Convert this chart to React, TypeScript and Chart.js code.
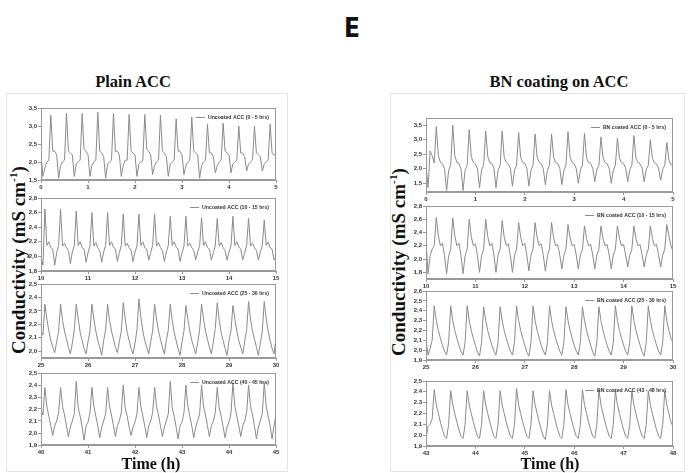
import React, { useEffect, useRef } from "react";
import { Chart, registerables } from "chart.js";

Chart.register(...registerables);

// sampling: one reading every 2.5 min (24 per hour)
const SAMPLES_PER_HOUR = 24;

// ---------- Plain ACC (uncoated) ----------
const uncoated_0_5 = [
  2.2, 1.6, 1.85, 2.0, 2.05,
  3.3, 2.3, 2.3, 2.2, 1.55, 1.9, 2.0, 2.05,
  3.35, 2.3, 2.25, 2.2, 1.6, 1.95, 2.0, 2.05,
  3.35, 2.35, 2.3, 2.2, 1.6, 1.9, 2.0, 2.05,
  3.38, 2.3, 2.25, 2.15, 1.55, 1.95, 2.0, 2.05,
  3.35, 2.3, 2.3, 2.2, 1.6, 1.9, 2.05, 2.05,
  3.32, 2.3, 2.25, 2.2, 1.6, 1.95, 2.0, 2.05,
  3.32, 2.35, 2.3, 2.2, 1.65, 1.9, 2.0, 2.05,
  3.3, 2.3, 2.25, 2.15, 1.6, 1.95, 2.0, 2.05,
  3.2, 2.3, 2.3, 2.2, 1.65, 1.9, 2.0, 2.05,
  3.25, 2.3, 2.25, 2.2, 1.55, 1.9, 2.0, 2.05,
  3.05, 2.25, 2.25, 2.15, 1.7, 1.9, 2.0, 2.05,
  3.08, 2.3, 2.25, 2.2, 1.7, 1.95, 2.0, 2.05,
  3.0, 2.25, 2.25, 2.15, 1.75, 1.95, 2.0, 2.05,
  3.0, 2.25, 2.2, 2.15, 1.75, 1.95, 2.0, 2.05,
  3.05, 2.25, 2.2, 2.2,
];

const uncoated_10_15 = [
  2.0, 1.88,
  2.65, 2.15, 2.2, 2.12, 2.1, 1.88, 2.05, 2.15,
  2.65, 2.14, 2.18, 2.12, 2.08, 1.9, 2.06, 2.15,
  2.62, 2.15, 2.2, 2.12, 2.1, 1.92, 2.05, 2.14,
  2.6, 2.14, 2.19, 2.12, 2.08, 1.92, 2.06, 2.15,
  2.6, 2.15, 2.2, 2.13, 2.1, 1.93, 2.05, 2.15,
  2.58, 2.14, 2.18, 2.12, 2.08, 1.93, 2.06, 2.14,
  2.58, 2.15, 2.2, 2.12, 2.1, 1.95, 2.05, 2.15,
  2.58, 2.14, 2.19, 2.12, 2.08, 1.93, 2.06, 2.15,
  2.55, 2.15, 2.2, 2.13, 2.1, 1.93, 2.05, 2.14,
  2.55, 2.14, 2.18, 2.12, 2.08, 1.95, 2.06, 2.15,
  2.53, 2.15, 2.2, 2.12, 2.1, 1.95, 2.05, 2.15,
  2.52, 2.14, 2.19, 2.12, 2.08, 1.95, 2.06, 2.14,
  2.55, 2.15, 2.2, 2.13, 2.1, 1.95, 2.05, 2.15,
  2.52, 2.14, 2.18, 2.12, 2.08, 1.95, 2.06, 2.15,
  2.5, 2.15, 2.2, 2.12, 2.1, 1.95, 2.0,
];

const uncoated_25_30 = [
  2.15, 2.12,
  2.35, 2.24, 2.15, 2.08, 2.03, 1.99, 2.07, 2.15,
  2.35, 2.23, 2.15, 2.09, 2.03, 1.98, 2.06, 2.16,
  2.35, 2.24, 2.14, 2.08, 2.02, 1.98, 2.07, 2.15,
  2.35, 2.24, 2.15, 2.08, 2.03, 1.97, 2.08, 2.16,
  2.35, 2.23, 2.15, 2.09, 2.03, 1.99, 2.07, 2.15,
  2.36, 2.24, 2.14, 2.08, 2.02, 1.98, 2.06, 2.16,
  2.39, 2.25, 2.15, 2.08, 2.03, 1.98, 2.07, 2.15,
  2.35, 2.24, 2.15, 2.09, 2.03, 1.98, 2.08, 2.16,
  2.35, 2.23, 2.14, 2.08, 2.02, 1.97, 2.07, 2.15,
  2.34, 2.24, 2.15, 2.08, 2.03, 1.98, 2.06, 2.16,
  2.35, 2.24, 2.15, 2.09, 2.03, 1.98, 2.07, 2.17,
  2.36, 2.23, 2.14, 2.08, 2.02, 1.97, 2.08, 2.15,
  2.34, 2.24, 2.15, 2.08, 2.03, 1.98, 2.07, 2.16,
  2.37, 2.24, 2.15, 2.09, 2.03, 1.97, 2.06, 2.15,
  2.37, 2.24, 2.15, 2.08, 2.02, 1.98, 2.1,
];

const uncoated_40_45 = [
  2.2, 2.15,
  2.38, 2.22, 2.14, 2.06, 1.98, 2.06, 2.1, 2.17,
  2.38, 2.22, 2.15, 2.06, 1.97, 2.05, 2.1, 2.16,
  2.43, 2.21, 2.14, 2.05, 1.94, 2.06, 2.09, 2.17,
  2.38, 2.22, 2.14, 2.06, 1.96, 2.05, 2.1, 2.16,
  2.38, 2.22, 2.15, 2.06, 1.97, 2.06, 2.1, 2.17,
  2.4, 2.21, 2.14, 2.05, 1.98, 2.05, 2.09, 2.16,
  2.38, 2.22, 2.14, 2.06, 1.96, 2.06, 2.1, 2.17,
  2.38, 2.22, 2.15, 2.06, 1.97, 2.05, 2.1, 2.16,
  2.43, 2.21, 2.14, 2.05, 1.95, 2.06, 2.09, 2.17,
  2.4, 2.22, 2.14, 2.06, 1.96, 2.05, 2.1, 2.16,
  2.4, 2.22, 2.15, 2.06, 1.97, 2.06, 2.1, 2.17,
  2.38, 2.21, 2.14, 2.05, 1.96, 2.05, 2.09, 2.16,
  2.42, 2.22, 2.14, 2.06, 1.97, 2.06, 2.1, 2.17,
  2.4, 2.22, 2.15, 2.06, 1.95, 2.05, 2.1, 2.16,
  2.42, 2.22, 2.14, 2.06, 1.95, 2.06, 2.15,
];

// ---------- BN coating on ACC ----------
const bn_0_5 = [
  2.1, 1.35, 2.62, 2.45, 2.2,
  3.45, 2.45, 2.22, 2.18, 2.0, 1.25, 1.95, 2.12,
  3.5, 2.45, 2.22, 2.18, 2.0, 1.25, 1.95, 2.12,
  3.35, 2.42, 2.22, 2.17, 2.0, 1.35, 1.96, 2.12,
  3.3, 2.42, 2.21, 2.18, 2.02, 1.35, 1.95, 2.12,
  3.3, 2.4, 2.22, 2.17, 2.0, 1.4, 1.96, 2.12,
  3.25, 2.4, 2.21, 2.18, 2.02, 1.4, 1.95, 2.12,
  3.2, 2.4, 2.22, 2.17, 2.0, 1.45, 1.96, 2.12,
  3.2, 2.4, 2.21, 2.18, 2.02, 1.45, 1.95, 2.12,
  3.28, 2.4, 2.22, 2.17, 2.0, 1.5, 1.96, 2.12,
  3.22, 2.38, 2.21, 2.18, 2.02, 1.55, 1.97, 2.12,
  3.1, 2.38, 2.22, 2.17, 2.02, 1.5, 1.96, 2.12,
  3.05, 2.36, 2.21, 2.18, 2.02, 1.55, 1.97, 2.12,
  3.15, 2.36, 2.22, 2.17, 2.02, 1.55, 1.97, 2.12,
  3.0, 2.35, 2.21, 2.17, 2.02, 1.6, 1.98, 2.12,
  2.9, 2.3, 2.15, 2.1,
];

const bn_10_15 = [
  2.28, 1.78, 2.05, 2.15, 2.2,
  2.63, 2.35, 2.2, 2.24, 2.05, 1.78, 2.05, 2.15,
  2.62, 2.35, 2.2, 2.24, 2.05, 1.78, 2.05, 2.15,
  2.6, 2.34, 2.2, 2.23, 2.05, 1.8, 2.05, 2.15,
  2.6, 2.34, 2.2, 2.24, 2.06, 1.8, 2.06, 2.15,
  2.58, 2.33, 2.2, 2.23, 2.05, 1.8, 2.05, 2.15,
  2.55, 2.33, 2.2, 2.24, 2.06, 1.82, 2.06, 2.15,
  2.55, 2.32, 2.2, 2.23, 2.05, 1.82, 2.05, 2.15,
  2.55, 2.32, 2.2, 2.22, 2.06, 1.85, 2.06, 2.15,
  2.52, 2.32, 2.2, 2.22, 2.06, 1.85, 2.06, 2.15,
  2.5, 2.31, 2.2, 2.22, 2.06, 1.85, 2.06, 2.15,
  2.5, 2.31, 2.2, 2.22, 2.06, 1.85, 2.06, 2.15,
  2.5, 2.31, 2.2, 2.22, 2.06, 1.88, 2.06, 2.15,
  2.5, 2.31, 2.2, 2.22, 2.06, 1.88, 2.06, 2.15,
  2.5, 2.31, 2.2, 2.22, 2.06, 1.88, 2.06, 2.15,
  2.52, 2.35, 2.2, 2.12,
];

const bn_25_30 = [
  2.1, 1.95, 2.02, 2.1,
  2.45, 2.3, 2.2, 2.12, 2.05, 1.99, 1.95, 2.08,
  2.45, 2.3, 2.2, 2.12, 2.05, 1.99, 1.95, 2.08,
  2.45, 2.3, 2.2, 2.12, 2.05, 1.98, 1.94, 2.08,
  2.44, 2.3, 2.2, 2.12, 2.05, 1.99, 1.95, 2.08,
  2.44, 2.3, 2.2, 2.12, 2.05, 1.99, 1.95, 2.08,
  2.45, 2.3, 2.2, 2.12, 2.05, 1.98, 1.94, 2.08,
  2.45, 2.3, 2.2, 2.12, 2.05, 1.99, 1.95, 2.08,
  2.45, 2.3, 2.2, 2.12, 2.05, 1.99, 1.95, 2.08,
  2.44, 2.3, 2.2, 2.12, 2.05, 1.99, 1.95, 2.08,
  2.44, 2.3, 2.2, 2.12, 2.05, 1.98, 1.94, 2.08,
  2.44, 2.3, 2.2, 2.12, 2.05, 1.99, 1.95, 2.08,
  2.45, 2.3, 2.2, 2.12, 2.05, 1.99, 1.95, 2.08,
  2.45, 2.3, 2.2, 2.12, 2.05, 1.98, 1.94, 2.08,
  2.45, 2.3, 2.2, 2.12, 2.05, 1.99, 1.95, 2.08,
  2.45, 2.3, 2.2, 2.12, 2.08,
];

const bn_43_48 = [
  1.97, 2.08, 2.1, 2.15,
  2.42, 2.28, 2.2, 2.12, 2.05, 1.99, 1.97, 2.1,
  2.41, 2.28, 2.2, 2.12, 2.05, 1.99, 1.97, 2.1,
  2.41, 2.28, 2.2, 2.12, 2.05, 1.99, 1.97, 2.1,
  2.41, 2.28, 2.2, 2.12, 2.05, 1.99, 1.97, 2.1,
  2.41, 2.28, 2.2, 2.12, 2.05, 1.99, 1.97, 2.1,
  2.43, 2.28, 2.2, 2.12, 2.05, 1.99, 1.97, 2.1,
  2.41, 2.28, 2.2, 2.12, 2.05, 1.99, 1.96, 2.1,
  2.41, 2.28, 2.2, 2.12, 2.05, 1.99, 1.97, 2.1,
  2.42, 2.28, 2.2, 2.12, 2.05, 1.99, 1.97, 2.1,
  2.42, 2.28, 2.2, 2.12, 2.05, 1.99, 1.97, 2.1,
  2.42, 2.28, 2.2, 2.12, 2.05, 1.99, 1.97, 2.1,
  2.41, 2.28, 2.2, 2.12, 2.05, 1.99, 1.97, 2.1,
  2.41, 2.28, 2.2, 2.12, 2.05, 1.99, 1.97, 2.1,
  2.41, 2.28, 2.2, 2.12, 2.05, 1.99, 1.97, 2.1,
  2.41, 2.28, 2.2, 2.12, 2.08,
];

// ---------- axis ticks ----------
const xTicks_0_5 = [0, 1, 2, 3, 4, 5];
const xTicks_10_15 = [10, 11, 12, 13, 14, 15];
const xTicks_25_30 = [25, 26, 27, 28, 29, 30];
const xTicks_40_45 = [40, 41, 42, 43, 44, 45];
const xTicks_43_48 = [43, 44, 45, 46, 47, 48];

const yTicksA = [1.5, 2.0, 2.5, 3.0, 3.5];
const yLabelsA = ["1,5", "2,0", "2,5", "3,0", "3,5"];
const yTicksB = [1.8, 2.0, 2.2, 2.4, 2.6, 2.8];
const yLabelsB = ["1,8", "2,0", "2,2", "2,4", "2,6", "2,8"];
const yTicksC = [2.0, 2.1, 2.2, 2.3, 2.4, 2.5];
const yLabelsC = ["2,0", "2,1", "2,2", "2,3", "2,4", "2,5"];
const yTicksD = [1.9, 2.0, 2.1, 2.2, 2.3, 2.4, 2.5];
const yLabelsD = ["1,9", "2,0", "2,1", "2,2", "2,3", "2,4", "2,5"];
const yTicksE = [1.9, 2.0, 2.1, 2.2, 2.3, 2.4, 2.5, 2.6];
const yLabelsE = ["1,9", "2,0", "2,1", "2,2", "2,3", "2,4", "2,5", "2,6"];
const yLabelsF = ["1,9", "2.0", "2.1", "2.2", "2.3", "2.4", "2,5"];

type Spec = {
  series: number[];
  start: number;
  legend: string;
  yMin: number;
  yMax: number;
  yTicks: number[];
  yLabels: string[];
  xTicks: number[];
  x0: number;
  x1: number;
  top: number;
  bottom: number;
};

const LEFT_X0 = 41;
const LEFT_X1 = 276;
const RIGHT_X0 = 426;
const RIGHT_X1 = 673;

const SPECS: Spec[] = [
  { series: uncoated_0_5, start: 0, legend: "Uncoated ACC (0 - 5 hrs)", yMin: 1.5, yMax: 3.5, yTicks: yTicksA, yLabels: yLabelsA, xTicks: xTicks_0_5, x0: LEFT_X0, x1: LEFT_X1, top: 108, bottom: 180 },
  { series: uncoated_10_15, start: 10, legend: "Uncoated ACC (10 - 15 hrs)", yMin: 1.8, yMax: 2.8, yTicks: yTicksB, yLabels: yLabelsB, xTicks: xTicks_10_15, x0: LEFT_X0, x1: LEFT_X1, top: 198, bottom: 271 },
  { series: uncoated_25_30, start: 25, legend: "Uncoated ACC (25 - 30 hrs)", yMin: 1.95, yMax: 2.5, yTicks: yTicksC, yLabels: yLabelsC, xTicks: xTicks_25_30, x0: LEFT_X0, x1: LEFT_X1, top: 284, bottom: 358 },
  { series: uncoated_40_45, start: 40, legend: "Uncoated ACC (40 - 45 hrs)", yMin: 1.9, yMax: 2.5, yTicks: yTicksD, yLabels: yLabelsD, xTicks: xTicks_40_45, x0: LEFT_X0, x1: LEFT_X1, top: 373, bottom: 445 },
  { series: bn_0_5, start: 0, legend: "BN coated ACC (0 - 5 hrs)", yMin: 1.2, yMax: 3.75, yTicks: yTicksA, yLabels: yLabelsA, xTicks: xTicks_0_5, x0: RIGHT_X0, x1: RIGHT_X1, top: 118, bottom: 192 },
  { series: bn_10_15, start: 10, legend: "BN coated ACC (10 - 15 hrs)", yMin: 1.7, yMax: 2.8, yTicks: yTicksB, yLabels: yLabelsB, xTicks: xTicks_10_15, x0: RIGHT_X0, x1: RIGHT_X1, top: 206, bottom: 279 },
  { series: bn_25_30, start: 25, legend: "BN coated ACC (25 - 30 hrs)", yMin: 1.9, yMax: 2.6, yTicks: yTicksE, yLabels: yLabelsE, xTicks: xTicks_25_30, x0: RIGHT_X0, x1: RIGHT_X1, top: 291, bottom: 360 },
  { series: bn_43_48, start: 43, legend: "BN coated ACC (43 - 48 hrs)", yMin: 1.9, yMax: 2.5, yTicks: yTicksD, yLabels: yLabelsF, xTicks: xTicks_43_48, x0: RIGHT_X0, x1: RIGHT_X1, top: 381, bottom: 446 },
];

const Y_W = 26;
const X_H = 12;
const PAD_T = 6;
const PAD_R = 8;
const TICK_FONT = { family: "'Liberation Sans', Arial, sans-serif", size: 6, weight: "bold" as const };
const AXIS_COLOR = "#999999";
const LINE_COLOR = "#8a8a8a";

const framePlugin = {
  id: "frameBox",
  afterDraw(chart: any) {
    const { ctx, chartArea } = chart;
    const { left, top, right, bottom } = chartArea;
    ctx.save();
    ctx.strokeStyle = AXIS_COLOR;
    ctx.lineWidth = 1;
    ctx.strokeRect(Math.round(left) + 0.5, Math.round(top) + 0.5, Math.round(right - left) - 1, Math.round(bottom - top) - 1);
    ctx.restore();
  },
};

// legend drawn inside the plot area, top-right (line sample + label)
const insideLegendPlugin = {
  id: "insideLegend",
  afterDraw(chart: any) {
    const { ctx, chartArea } = chart;
    const ds = chart.data.datasets[0];
    const label: string = ds.label;
    ctx.save();
    ctx.font = "bold 5.2px 'Liberation Sans', Arial, sans-serif";
    ctx.fillStyle = "#333";
    ctx.textBaseline = "middle";
    const w = ctx.measureText(label).width;
    const y = Math.round(chartArea.top + 9) + 0.5;
    const textX = chartArea.right - 7 - w;
    ctx.fillText(label, textX, y);
    ctx.strokeStyle = ds.borderColor;
    ctx.lineWidth = 1;
    ctx.beginPath();
    ctx.moveTo(textX - 12, y);
    ctx.lineTo(textX - 3, y);
    ctx.stroke();
    ctx.restore();
  },
};

function MiniChart({ spec }: { spec: Spec }) {
  const ref = useRef<HTMLCanvasElement | null>(null);
  const width = spec.x1 - spec.x0 + Y_W + PAD_R;
  const height = spec.bottom - spec.top + PAD_T + X_H;

  useEffect(() => {
    if (!ref.current) return;
    const pts = spec.series.map((v, i) => ({ x: spec.start + i / SAMPLES_PER_HOUR, y: v }));
    const chart = new Chart(ref.current, {
      type: "line",
      data: {
        datasets: [
          {
            label: spec.legend,
            data: pts,
            borderColor: LINE_COLOR,
            backgroundColor: LINE_COLOR,
            borderWidth: 1,
            pointRadius: 0,
            tension: 0,
            fill: false,
          },
        ],
      },
      options: {
        responsive: false,
        animation: false,
        devicePixelRatio: 1,
        layout: { padding: { top: PAD_T, right: PAD_R, left: 0, bottom: 0 } },
        scales: {
          x: {
            type: "linear",
            min: spec.start,
            max: spec.start + 5,
            afterBuildTicks: (s: any) => {
              s.ticks = spec.xTicks.map((v) => ({ value: v }));
            },
            afterFit: (s: any) => {
              s.height = X_H;
            },
            ticks: {
              font: TICK_FONT,
              color: "#333",
              padding: 1,
              maxRotation: 0,
              autoSkip: false,
              callback: (v: any) => String(v),
            },
            grid: { display: true, drawOnChartArea: false, drawTicks: true, tickLength: 3, color: AXIS_COLOR },
            border: { display: true, color: AXIS_COLOR },
          },
          y: {
            type: "linear",
            min: spec.yMin,
            max: spec.yMax,
            afterBuildTicks: (s: any) => {
              s.ticks = spec.yTicks.map((v) => ({ value: v }));
            },
            afterFit: (s: any) => {
              s.width = Y_W;
            },
            ticks: {
              font: TICK_FONT,
              color: "#333",
              padding: 1,
              autoSkip: false,
              callback: (v: any) => {
                const idx = spec.yTicks.findIndex((t) => Math.abs(t - Number(v)) < 1e-6);
                return idx >= 0 ? spec.yLabels[idx] : "";
              },
            },
            grid: { display: true, drawOnChartArea: false, drawTicks: true, tickLength: 3, color: AXIS_COLOR },
            border: { display: true, color: AXIS_COLOR },
          },
        },
        plugins: {
          legend: { display: false },
          tooltip: { enabled: false },
        },
      } as any,
      plugins: [framePlugin, insideLegendPlugin],
    });
    return () => chart.destroy();
  }, []);

  return (
    <canvas
      ref={ref}
      width={width}
      height={height}
      style={{
        position: "absolute",
        left: spec.x0 - Y_W,
        top: spec.top - PAD_T,
        width,
        height,
      }}
    />
  );
}

const serifBold = "'Liberation Serif', 'Times New Roman', serif";

function Text({ x, y, size, children, family = serifBold }: any) {
  // x = horizontal centre, y = top of line box (line-height = font size)
  return (
    <div
      style={{
        position: "absolute",
        left: x - 150,
        width: 300,
        top: y,
        textAlign: "center",
        fontFamily: family,
        fontWeight: "bold",
        fontSize: size,
        lineHeight: `${size}px`,
        whiteSpace: "nowrap",
        color: "#111",
      }}
    >
      {children}
    </div>
  );
}

function YTitle({ cx, cy }: { cx: number; cy: number }) {
  return (
    <div
      style={{
        position: "absolute",
        left: cx,
        top: cy,
        transform: "translate(-50%, -50%) rotate(-90deg)",
        fontFamily: serifBold,
        fontWeight: "bold",
        fontSize: 19,
        lineHeight: "19px",
        whiteSpace: "nowrap",
        color: "#111",
      }}
    >
      Conductivity (mS cm<sup style={{ fontSize: "0.6em", lineHeight: 0, verticalAlign: "0.7em" }}>-1</sup>)
    </div>
  );
}

export default function App() {
  useEffect(() => {
    document.body.style.margin = "0";
  }, []);
  return (
    <div
      style={{
        position: "fixed",
        left: 0,
        top: 0,
        width: 691,
        height: 473,
        background: "#fff",
        overflow: "hidden",
      }}
    >
      <Text x={352} y={15} size={26} family="'Liberation Sans Narrow', 'DejaVu Sans Condensed', sans-serif">
        E
      </Text>

      {/* panel frames */}
      <div style={{ position: "absolute", left: 6, top: 93, width: 282, height: 379, border: "1px solid #e4e4e4", boxSizing: "border-box" }} />
      <div style={{ position: "absolute", left: 390, top: 93, width: 295, height: 379, border: "1px solid #e4e4e4", boxSizing: "border-box" }} />

      <Text x={133} y={74} size={16.5}>Plain ACC</Text>
      <Text x={559} y={74} size={16.5}>BN coating on ACC</Text>

      <YTitle cx={17.5} cy={260} />
      <YTitle cx={398} cy={262} />

      {SPECS.map((s, i) => (
        <MiniChart key={i} spec={s} />
      ))}

      <Text x={151} y={455.5} size={16}>Time (h)</Text>
      <Text x={550} y={456} size={16}>Time (h)</Text>
    </div>
  );
}
